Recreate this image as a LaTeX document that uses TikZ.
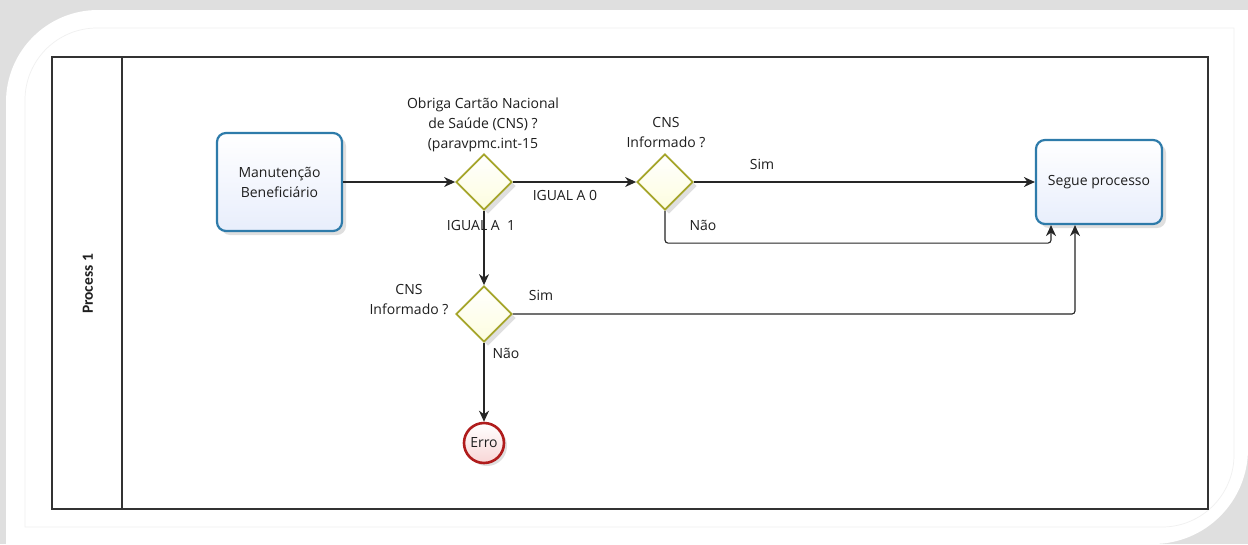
\documentclass[tikz,border=0pt]{standalone}
\usepackage{fontspec}
\setmainfont{Open Sans}
\newfontfamily\lanefont{Carlito}
\usetikzlibrary{shapes.geometric,arrows.meta,shadows,calc}
\definecolor{taskborder}{RGB}{46,123,170}
\definecolor{taskfill}{RGB}{232,238,252}
\definecolor{gwborder}{RGB}{165,165,42}
\definecolor{gwfill}{RGB}{253,253,222}
\definecolor{errborder}{RGB}{176,28,28}
\definecolor{errfill}{RGB}{248,214,214}
\definecolor{txt}{RGB}{30,30,30}
\tikzset{
  taskbox/.style={draw=taskborder, line width=2.2pt, rounded corners=9pt,
    top color=white, bottom color=taskfill, align=center, text=txt,
    drop shadow={shadow xshift=4pt, shadow yshift=-4pt, opacity=0.25, fill=gray}},
  gateway/.style={diamond, aspect=1, draw=gwborder, line width=1.8pt,
    top color=white, bottom color=gwfill, minimum width=56pt, minimum height=56pt,
    inner sep=0pt,
    drop shadow={shadow xshift=4pt, shadow yshift=-4pt, opacity=0.25, fill=gray}},
  endevent/.style={circle, draw=errborder, line width=2.6pt, top color=white,
    bottom color=errfill, minimum size=40pt, inner sep=0pt, text=txt,
    drop shadow={shadow xshift=3pt, shadow yshift=-3pt, opacity=0.25, fill=gray}},
  flow/.style={draw=black!85, line width=1.1pt, -{Stealth[length=11pt,width=10pt,inset=3.5pt]}, rounded corners=3pt},
  lbl/.style={text=txt, inner sep=0pt, align=center},
}
\begin{document}
\begin{tikzpicture}[x=1pt, y=-1pt, font=\fontsize{14}{20}\selectfont]
\useasboundingbox (0,0) rectangle (1248,544);
% background frame
\fill[gray!25] (0,0) rectangle (1248,544);
\fill[white] (6,544) [rounded corners=92pt] -- (6,10) [sharp corners] -- (1248,10) [rounded corners=95pt] -- (1248,544) [sharp corners] -- cycle;
\fill[white] (6,530) rectangle (1100,544);
\draw[gray!12, line width=0.7pt] (25,527) [rounded corners=72pt] -- (25,28) [sharp corners] -- (1234,28) [rounded corners=72pt] -- (1234,527) [sharp corners] -- cycle;
% pool
\draw[black!80, line width=1.3pt] (52,57) rectangle (1208,509);
\draw[black!80, line width=1.1pt] (122,57) -- (122,509);
\node[rotate=90, font=\lanefont\bfseries\fontsize{15.5}{18}\selectfont, text=txt] (lane) at (88,284) {Process 1};
% nodes
\node[taskbox, minimum width=125pt, minimum height=98pt] (manut) at (279.5,182) {Manutenção\\Beneficiário};
\node[gateway] (d1) at (484,182) {};
\node[gateway] (d2) at (665,182) {};
\node[gateway] (d3) at (484,314) {};
\node[taskbox, minimum width=126pt, minimum height=84pt] (segue) at (1099,182) {Segue processo};
\node[endevent] (erro) at (484,443) {Erro};
% gateway labels
\node[lbl] (l1) at (483,125) {Obriga Cartão Nacional\\de Saúde (CNS) ?\\(paravpmc.int-15};
\node[lbl] (l2) at (666,133) {CNS\\Informado ?};
\node[lbl] (l3) at (409,300) {CNS\\Informado ?};
% flows
\draw[flow] (manut) -- (d1.west);
\draw[flow] (d1.east) -- (d2.west);
\draw[flow] (d1.south) -- (d3.north);
\draw[flow] (d2.east) -- (segue.west);
\draw[flow] (d2.south) |- ([xshift=-48pt,yshift=-18pt]segue.south) -- ([xshift=-48pt]segue.south);
\draw[flow] (d3.east) -| ([xshift=-24pt]segue.south);
\draw[flow] (d3.south) -- (erro.north);
% flow labels
\node[lbl] (f1) at (565,195) {IGUAL A 0};
\node[lbl] (f2) at (481,225) {IGUAL A\ \ 1};
\node[lbl] (f3) at (762,164) {Sim};
\node[lbl] (f4) at (703,225) {Não};
\node[lbl] (f5) at (541,295) {Sim};
\node[lbl] (f6) at (506,353) {Não};
\end{tikzpicture}
\end{document}
